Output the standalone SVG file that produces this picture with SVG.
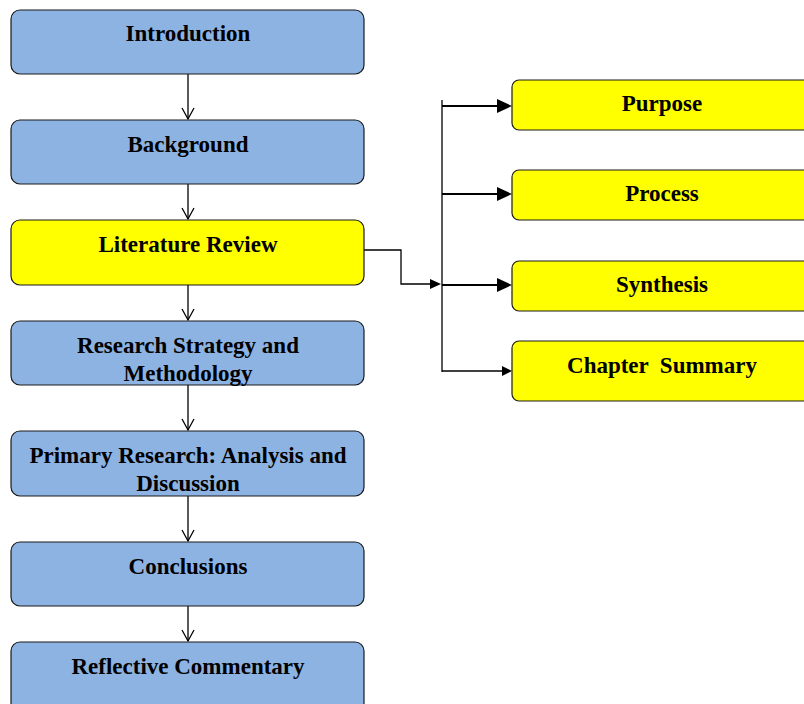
<svg xmlns="http://www.w3.org/2000/svg" width="804" height="704" viewBox="0 0 804 704">
  <style>
    .blue { fill: #8db3e2; stroke: #1a1a1a; stroke-width: 1.2; }
    .yellow { fill: #ffff00; stroke: #1a1a1a; stroke-width: 1.2; }
    .lbl { font-family: "Liberation Serif", "Times New Roman", serif; font-weight: bold; font-size: 23px; fill: #000; text-anchor: middle; }
    .wire { fill: none; stroke: #000; stroke-width: 1.3; }
    .thick { fill: none; stroke: #000; stroke-width: 2.2; }
  </style>

  <g id="connectors">
    <!-- vertical chain -->
    <line class="wire" x1="188" y1="74" x2="188" y2="119"/>
    <line class="wire" x1="188" y1="184" x2="188" y2="219"/>
    <line class="wire" x1="188" y1="285" x2="188" y2="320"/>
    <line class="wire" x1="188" y1="385" x2="188" y2="430"/>
    <line class="wire" x1="188" y1="496" x2="188" y2="541"/>
    <line class="wire" x1="188" y1="606" x2="188" y2="641"/>
    <!-- open arrowheads -->
    <path class="wire" d="M182,108 L188,119 L194,108"/>
    <path class="wire" d="M182,208 L188,219 L194,208"/>
    <path class="wire" d="M182,309 L188,320 L194,309"/>
    <path class="wire" d="M182,419 L188,430 L194,419"/>
    <path class="wire" d="M182,530 L188,541 L194,530"/>
    <path class="wire" d="M182,630 L188,641 L194,630"/>
    <!-- literature review branch -->
    <polyline class="wire" points="362,250 401,250 401,284 431,284"/>
    <path d="M430,279 L441,284 L430,289 Z" fill="#000"/>
    <line class="wire" x1="442" y1="100" x2="442" y2="372"/>
    <line class="thick" x1="442" y1="106" x2="498" y2="106"/>
    <path d="M497,99 L512,106 L497,113 Z" fill="#000"/>
    <line class="thick" x1="442" y1="194" x2="498" y2="194"/>
    <path d="M497,187 L512,194 L497,201 Z" fill="#000"/>
    <line class="thick" x1="442" y1="285" x2="498" y2="285"/>
    <path d="M497,278 L512,285 L497,292 Z" fill="#000"/>
    <line class="wire" x1="442" y1="371" x2="503" y2="371"/>
    <path d="M502,366 L512,371 L502,376 Z" fill="#000"/>
  </g>

  <g id="introduction">
    <rect class="blue" x="11" y="10" width="353" height="64" rx="9"/>
    <text class="lbl" x="188" y="41">Introduction</text>
  </g>
  <g id="background">
    <rect class="blue" x="11" y="120" width="353" height="64" rx="9"/>
    <text class="lbl" x="188" y="152">Background</text>
  </g>
  <g id="literature-review">
    <rect class="yellow" x="11" y="220" width="353" height="65" rx="9"/>
    <text class="lbl" x="188" y="252">Literature Review</text>
  </g>
  <g id="research-strategy">
    <rect class="blue" x="11" y="321" width="353" height="64" rx="9"/>
    <text class="lbl" x="188" y="353">Research Strategy and</text>
    <text class="lbl" x="188" y="381">Methodology</text>
  </g>
  <g id="primary-research">
    <rect class="blue" x="11" y="431" width="353" height="65" rx="9"/>
    <text class="lbl" x="188" y="463">Primary Research: Analysis and</text>
    <text class="lbl" x="188" y="491">Discussion</text>
  </g>
  <g id="conclusions">
    <rect class="blue" x="11" y="542" width="353" height="64" rx="9"/>
    <text class="lbl" x="188" y="574">Conclusions</text>
  </g>
  <g id="reflective-commentary">
    <rect class="blue" x="11" y="642" width="353" height="70" rx="9"/>
    <text class="lbl" x="188" y="674">Reflective Commentary</text>
  </g>

  <g id="purpose">
    <rect class="yellow" x="512" y="80" width="310" height="50" rx="7"/>
    <text class="lbl" x="662" y="111">Purpose</text>
  </g>
  <g id="process">
    <rect class="yellow" x="512" y="170" width="310" height="50" rx="7"/>
    <text class="lbl" x="662" y="201">Process</text>
  </g>
  <g id="synthesis">
    <rect class="yellow" x="512" y="261" width="310" height="50" rx="7"/>
    <text class="lbl" x="662" y="292">Synthesis</text>
  </g>
  <g id="chapter-summary">
    <rect class="yellow" x="512" y="341" width="310" height="60" rx="7"/>
    <text class="lbl" x="662" y="373" xml:space="preserve">Chapter  Summary</text>
  </g>
</svg>
